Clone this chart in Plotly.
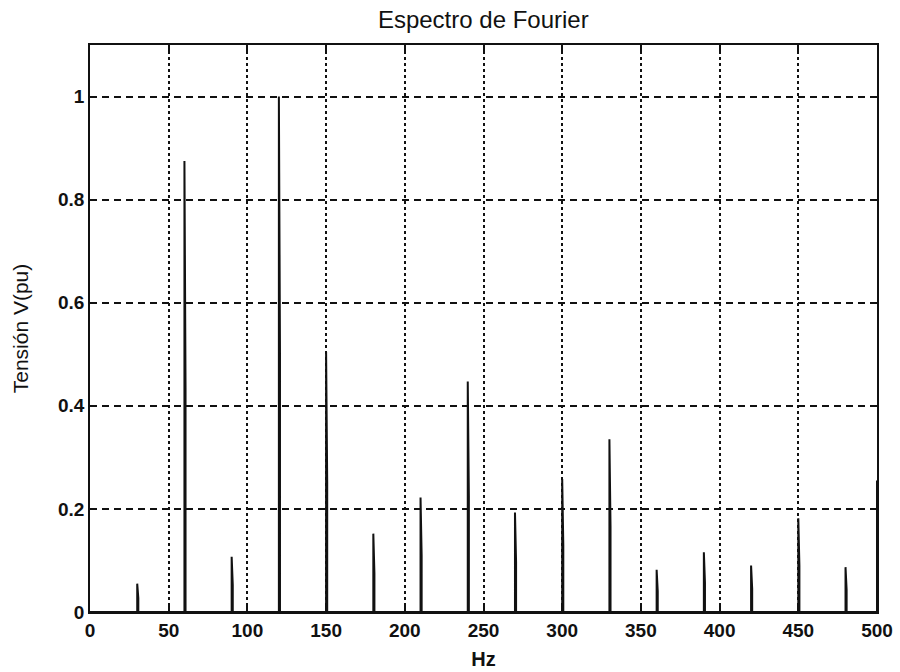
import plotly.graph_objects as go

# Harmonic frequencies (Hz) and their spectral amplitudes (pu)
harm_freq = [30, 60, 90, 120, 150, 180, 210, 240, 270, 300, 330, 360, 390, 420, 450, 480]
peak_amp = [0.055, 0.875, 0.107, 1.0, 0.505, 0.152, 0.222, 0.447, 0.193, 0.258,
            0.335, 0.082, 0.116, 0.090, 0.182, 0.087]
# amplitude of the neighbouring FFT bin beside each peak
side_amp = [0.027, 0.435, 0.053, 0.502, 0.252, 0.075, 0.110, 0.225, 0.097, 0.130,
            0.167, 0.040, 0.057, 0.045, 0.090, 0.043]
# last bin at the end of the window
edge_freq = 500
edge_amp = 0.255

x_ticks = [0, 50, 100, 150, 200, 250, 300, 350, 400, 450, 500]
y_ticks = [0, 0.2, 0.4, 0.6, 0.8, 1.0]
y_tick_text = ["0", "0.2", "0.4", "0.6", "0.8", "1"]

# build the spectrum trace: zero floor with a narrow stem pair at each harmonic
xs, ys = [0], [0]
for f, a, s in zip(harm_freq, peak_amp, side_amp):
    xs += [f, f, f + 0.7, f + 0.7]
    ys += [0, a, s, 0]
xs += [edge_freq, edge_freq]
ys += [0, edge_amp]

fig = go.Figure()
fig.add_trace(go.Scatter(x=xs, y=ys, mode="lines",
                         line=dict(color="#111111", width=2.0),
                         hoverinfo="skip", showlegend=False))

font_family = "Liberation Sans, Arial, sans-serif"

fig.update_layout(
    width=900, height=672,
    margin=dict(l=90, r=23, t=45, b=60),
    paper_bgcolor="white", plot_bgcolor="white",
    title=dict(text="Espectro de Fourier", x=0.537, xanchor="center",
               y=0.971, yanchor="middle",
               font=dict(family=font_family, size=24, color="#111111")),
    font=dict(family=font_family, color="#111111"),
)

fig.update_xaxes(
    range=[0, 500], tickvals=x_ticks, automargin=False,
    showgrid=True, gridcolor="#111111", gridwidth=2.0, griddash="dot",
    zeroline=False,
    showline=True, linecolor="#111111", linewidth=1.8, mirror="ticks",
    ticks="inside", ticklen=6, tickcolor="#111111", tickwidth=1.8,
    tickfont=dict(size=19, family=font_family, weight="bold"),
    title=dict(text="Hz", standoff=12,
               font=dict(size=20, family=font_family, weight="bold")),
)
fig.update_yaxes(
    range=[0, 1.1], tickvals=y_ticks, ticktext=y_tick_text, automargin=False,
    showgrid=True, gridcolor="#111111", gridwidth=1.6, griddash="7px,5px",
    zeroline=False,
    showline=True, linecolor="#111111", linewidth=1.8, mirror="ticks",
    ticks="inside", ticklen=6, tickcolor="#111111", tickwidth=1.8,
    tickfont=dict(size=19, family=font_family, weight="bold"),
    title=dict(text="Tensión V(pu)", standoff=24,
               font=dict(size=21, family=font_family)),
)

fig.write_html("out.html")
